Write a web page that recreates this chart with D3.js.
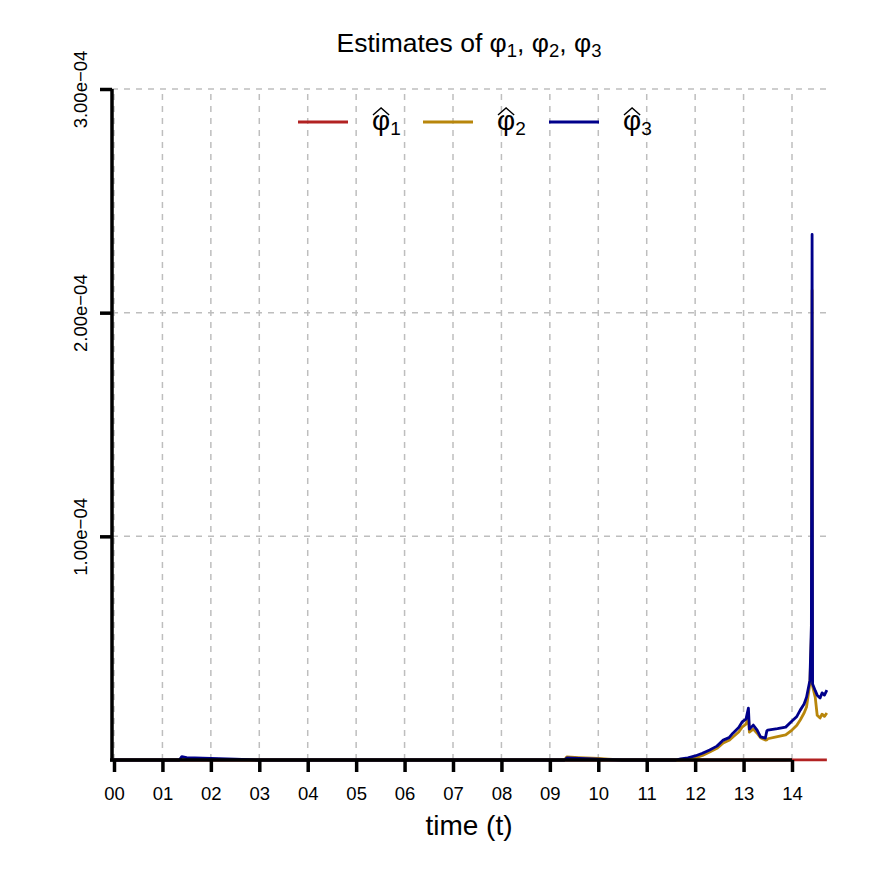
<!DOCTYPE html>
<html>
<head>
<meta charset="utf-8">
<script src="https://cdn.jsdelivr.net/npm/d3@7"></script>
<style>
  body { margin: 0; background: #fff; }
  svg { font-family: 'Liberation Sans', Arial, sans-serif; }
</style>
</head>
<body>
<div id="graf"></div>
<script>
// time (t) and estimates, values in units of 1e-5
const tiempos = [0, 1.35, 1.40, 1.5, 2.0, 2.5, 3.0, 9.3, 9.35, 9.6, 10.0, 10.2, 10.5, 11.6, 11.7, 11.85,
  12.0, 12.15, 12.3, 12.45, 12.58, 12.7, 12.78, 12.9, 12.97, 13.05, 13.1, 13.12, 13.2, 13.28, 13.35,
  13.45, 13.48, 13.5, 13.7, 13.87, 14.0, 14.1, 14.17, 14.25, 14.3, 14.37, 14.40, 14.415, 14.425,
  14.48, 14.52, 14.58, 14.62, 14.67, 14.72]
const phi1 = [0, 0, 0, 0, 0, 0, 0, 0, 0, 0, 0, 0, 0, 0, 0, 0,
  0, 0, 0, 0, 0, 0, 0, 0, 0, 0, 0, 0, 0, 0, 0,
  0, 0, 0, 0, 0, 0.01, 0.01, 0.01, 0.01, 0.01, 0.01, 0.01, 0.01, 0.01,
  0.01, 0.01, 0.01, 0.01, 0.01, 0.01]
const phi2 = [0, 0, 0.1, 0.08, 0.04, 0.02, 0, 0, 0.14, 0.11, 0.07, 0.04, 0, 0, 0.01, 0.04,
  0.09, 0.2, 0.36, 0.52, 0.76, 0.88, 1.03, 1.25, 1.47, 1.6, 1.92, 1.25, 1.38, 1.2, 1.0,
  0.89, 0.9, 0.95, 1.05, 1.12, 1.34, 1.55, 1.79, 2.1, 2.37, 3.44, 5.5, 21.0, 3.3,
  2.8, 2.0, 1.88, 2.05, 1.95, 2.1]
const phi3 = [0, 0, 0.15, 0.11, 0.07, 0.04, 0, 0, 0.09, 0.07, 0.04, 0.02, 0, 0, 0.05, 0.1,
  0.18, 0.3, 0.45, 0.62, 0.89, 1.0, 1.2, 1.45, 1.7, 1.83, 2.32, 1.38, 1.56, 1.34, 1.03,
  0.98, 1.3, 1.34, 1.4, 1.47, 1.74, 1.95, 2.23, 2.5, 2.81, 3.57, 6.0, 23.5, 3.4,
  3.1, 2.9, 2.77, 3.0, 2.9, 3.12]

const series = [
  { nombre: '1', valores: phi1, color: '#B22222' },
  { nombre: '2', valores: phi2, color: '#B8860B' },
  { nombre: '3', valores: phi3, color: '#00008B' },
]

const xTicks = d3.range(0, 15)
const xTickLabels = ['00', '01', '02', '03', '04', '05', '06', '07', '08', '09', '10', '11', '12', '13', '14']
const yTicks = [10, 20, 30]
const yTickLabels = ['1.00e\u221204', '2.00e\u221204', '3.00e\u221204']

const anchoTotal = 872
const altoTotal = 872

const svg = d3.select('#graf')
  .append('svg')
  .attr('width', anchoTotal)
  .attr('height', altoTotal)

const x = d3.scaleLinear()
  .domain([0, 14])
  .range([114, 792])

const y = d3.scaleLinear()
  .domain([0, 30])
  .range([760, 89])

const xMax = d3.max(tiempos)

// grid
const grid = svg.append('g')
  .attr('stroke', '#BEBEBE')
  .attr('stroke-width', 1.5)
  .attr('stroke-dasharray', '6,6')

grid.selectAll('line.v')
  .data(xTicks)
  .enter()
  .append('line')
    .attr('class', 'v')
    .attr('x1', d => x(d))
    .attr('x2', d => x(d))
    .attr('y1', y(0))
    .attr('y2', y(30))

grid.selectAll('line.h')
  .data(yTicks)
  .enter()
  .append('line')
    .attr('class', 'h')
    .attr('x1', x(0) - 2)
    .attr('x2', x(xMax))
    .attr('y1', d => y(d))
    .attr('y2', d => y(d))

// series
const linea = v => d3.line()
  .x((d, i) => x(tiempos[i]))
  .y(d => y(d))(v)

svg.selectAll('path.serie')
  .data(series)
  .enter()
  .append('path')
    .attr('class', 'serie')
    .attr('d', d => linea(d.valores))
    .attr('fill', 'none')
    .attr('stroke', d => d.color)
    .attr('stroke-width', 2.8)
    .attr('stroke-linejoin', 'round')

// axes
const xAxisGroup = svg.append('g')
  .attr('transform', `translate(0, ${y(0)})`)
  .call(
    d3.axisBottom(x)
      .tickValues(xTicks)
      .tickSize(12)
      .tickFormat((d, i) => xTickLabels[i])
  )
xAxisGroup.select('.domain').remove()
xAxisGroup.selectAll('line').attr('stroke', '#000').attr('stroke-width', 3.5)
xAxisGroup.selectAll('text')
  .attr('font-size', 18.5)
  .attr('font-family', 'Liberation Sans, Arial, sans-serif')
  .attr('fill', '#000')
  .attr('dy', null)
  .attr('y', 40)

const yAxisGroup = svg.append('g')
  .attr('transform', `translate(112, 0)`)
  .call(
    d3.axisLeft(y)
      .tickValues(yTicks)
      .tickSize(12)
      .tickFormat((d, i) => yTickLabels[i])
  )
yAxisGroup.select('.domain').remove()
yAxisGroup.selectAll('line').attr('stroke', '#000').attr('stroke-width', 3.5)
yAxisGroup.selectAll('text')
  .attr('font-size', 18.5)
  .attr('font-family', 'Liberation Sans, Arial, sans-serif')
  .attr('fill', '#000')
  .attr('text-anchor', 'middle')
  .attr('transform', 'rotate(-90)')
  .attr('x', 0)
  .attr('dy', null)
  .attr('y', -25)

// axis lines
svg.append('line')
  .attr('x1', 112).attr('x2', 112)
  .attr('y1', y(0) + 1.5).attr('y2', y(30))
  .attr('stroke', '#000').attr('stroke-width', 3.5)
svg.append('line')
  .attr('x1', 110).attr('x2', x(14))
  .attr('y1', y(0)).attr('y2', y(0))
  .attr('stroke', '#000').attr('stroke-width', 3.5)

// title
const titulo = svg.append('text')
  .attr('x', 469)
  .attr('y', 52)
  .attr('text-anchor', 'middle')
  .attr('font-size', 26.5)
titulo.append('tspan').text('Estimates of \u03C6')
titulo.append('tspan').attr('font-size', 18.5).attr('dy', 5).text('1')
titulo.append('tspan').attr('dy', -5).text(', \u03C6')
titulo.append('tspan').attr('font-size', 18.5).attr('dy', 5).text('2')
titulo.append('tspan').attr('dy', -5).text(', \u03C6')
titulo.append('tspan').attr('font-size', 18.5).attr('dy', 5).text('3')

// x label
svg.append('text')
  .attr('x', 469)
  .attr('y', 835)
  .attr('text-anchor', 'middle')
  .attr('font-size', 28)
  .text('time (t)')

// legend
const legendX = [298, 423, 549]
const leyenda = svg.selectAll('g.ley')
  .data(series)
  .enter()
  .append('g')
    .attr('class', 'ley')
    .attr('transform', (d, i) => `translate(${legendX[i]}, 122)`)

leyenda.append('line')
  .attr('x1', 0).attr('x2', 50)
  .attr('y1', 0).attr('y2', 0)
  .attr('stroke', d => d.color)
  .attr('stroke-width', 2.8)

leyenda.each(function (d) {
  const gl = d3.select(this)
  const phi = gl.append('text')
    .attr('x', 74)
    .attr('y', 8)
    .attr('font-size', 28)
    .text('\u03C6')
  const w = phi.node().getComputedTextLength()
  gl.append('text')
    .attr('x', 74 + w)
    .attr('y', 13)
    .attr('font-size', 19)
    .text(d.nombre)
  gl.append('path')
    .attr('d', `M${74 + 1},${-7} L${74 + w / 2},${-14} L${74 + w - 1},${-7}`)
    .attr('fill', 'none')
    .attr('stroke', '#000')
    .attr('stroke-width', 1.4)
})
</script>
</body>
</html>
